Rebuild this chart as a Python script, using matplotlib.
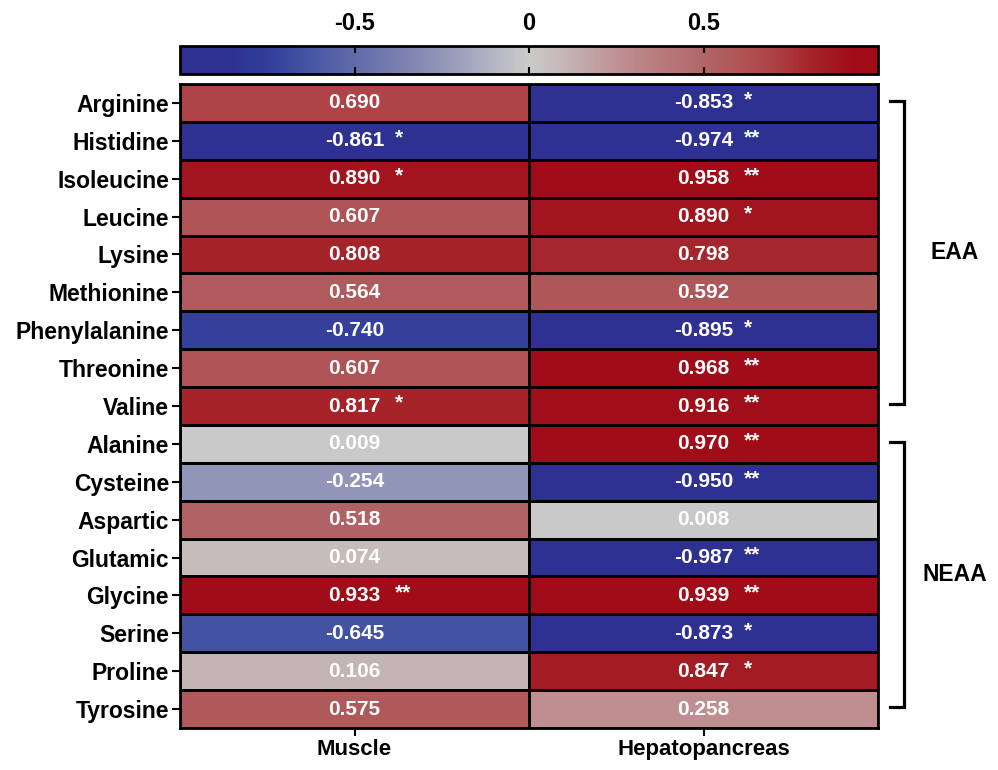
import numpy as np
import matplotlib
matplotlib.use("Agg")
import matplotlib.pyplot as plt
from matplotlib.colors import LinearSegmentedColormap, Normalize
from matplotlib.cm import ScalarMappable

plt.rcParams['font.family'] = ['Liberation Sans', 'DejaVu Sans']
plt.rcParams['font.weight'] = 'bold'

amino_acids = ['Arginine', 'Histidine', 'Isoleucine', 'Leucine', 'Lysine',
               'Methionine', 'Phenylalanine', 'Threonine', 'Valine',
               'Alanine', 'Cysteine', 'Aspartic', 'Glutamic', 'Glycine',
               'Serine', 'Proline', 'Tyrosine']
tissues = ['Muscle', 'Hepatopancreas']

muscle = [0.690, -0.861, 0.890, 0.607, 0.808, 0.564, -0.740, 0.607, 0.817,
          0.009, -0.254, 0.518, 0.074, 0.933, -0.645, 0.106, 0.575]
hepato = [-0.853, -0.974, 0.958, 0.890, 0.798, 0.592, -0.895, 0.968, 0.916,
          0.970, -0.950, 0.008, -0.987, 0.939, -0.873, 0.847, 0.258]

muscle_sig = ['', '*', '*', '', '', '', '', '', '*',
              '', '', '', '', '**', '', '', '']
hepato_sig = ['*', '**', '**', '*', '', '', '*', '**', '**',
              '**', '**', '', '**', '**', '*', '*', '']

groups = [('EAA', 0, 8), ('NEAA', 9, 16)]

values = np.column_stack([muscle, hepato])
stars = [muscle_sig, hepato_sig]

# colour stops (value, colour) sampled from the reference scale
stops = [(-1.0, '#2E3192'), (-0.86, '#2E3192'), (-0.74, '#34409A'),
         (-0.645, '#4452A2'), (-0.25, '#9296B8'), (0.0, '#CBCBCB'),
         (0.106, '#C4B5B5'), (0.258, '#BF8F92'), (0.57, '#AF5A5C'),
         (0.69, '#AE4548'), (0.808, '#A5252B'), (0.93, '#A00C18'),
         (1.0, '#A00C18')]
cmap = LinearSegmentedColormap.from_list(
    'bwr_prism', [((v + 1) / 2, c) for v, c in stops])
norm = Normalize(vmin=-1, vmax=1)

W, H = 998, 770
fig = plt.figure(figsize=(W / 100, H / 100), dpi=100)

ax = fig.add_axes([180 / W, 1 - 728 / H, 698 / W, 644 / H])
ax.pcolormesh(values, cmap=cmap, norm=norm, edgecolors='black', linewidth=2)
ax.set_xlim(0, 2)
ax.set_ylim(len(amino_acids), 0)

for j in range(2):
    for i in range(len(amino_acids)):
        ax.text(j + 0.5, i + 0.5, f'{values[i, j]:.3f}', ha='center', va='center',
                color='white', fontsize=15, fontweight='bold')
        if stars[j][i]:
            ax.text(j + 0.615, i + 0.43, stars[j][i], ha='left', va='center',
                    color='white', fontsize=15, fontweight='bold')

ax.set_yticks(np.arange(len(amino_acids)) + 0.5)
ax.set_yticklabels(amino_acids, fontsize=16.5, fontweight='bold')
ax.set_xticks([0.5, 1.5])
ax.set_xticklabels(tissues, fontsize=16, fontweight='bold')
ax.tick_params(axis='both', length=6, width=1.5, color='black', pad=2)
for s in ax.spines.values():
    s.set_linewidth(2)

# group brackets
for name, start, end in groups:
    y0, y1 = start + 0.45, end + 0.45
    ax.plot([2.035, 2.075, 2.075, 2.035], [y0, y0, y1, y1], color='black',
            lw=2.3, clip_on=False, solid_joinstyle='miter')
    ax.text(2.22, (y0 + y1) / 2, name, ha='center', va='center',
            fontsize=16.5, fontweight='bold')

# colorbar on top
cax = fig.add_axes([180 / W, 1 - 74 / H, 698 / W, 28 / H])
cb = fig.colorbar(ScalarMappable(norm=norm, cmap=cmap), cax=cax,
                  orientation='horizontal', ticks=[-0.5, 0, 0.5])
cb.outline.set_linewidth(2)
cax.xaxis.set_ticks_position('both')
cax.tick_params(axis='x', direction='in', length=5, width=1.5, top=True, bottom=True,
                labeltop=True, labelbottom=False, labelsize=17, pad=8)
cax.set_xticklabels(['-0.5', '0', '0.5'], fontweight='bold')

fig.savefig('out.png', dpi=100)
